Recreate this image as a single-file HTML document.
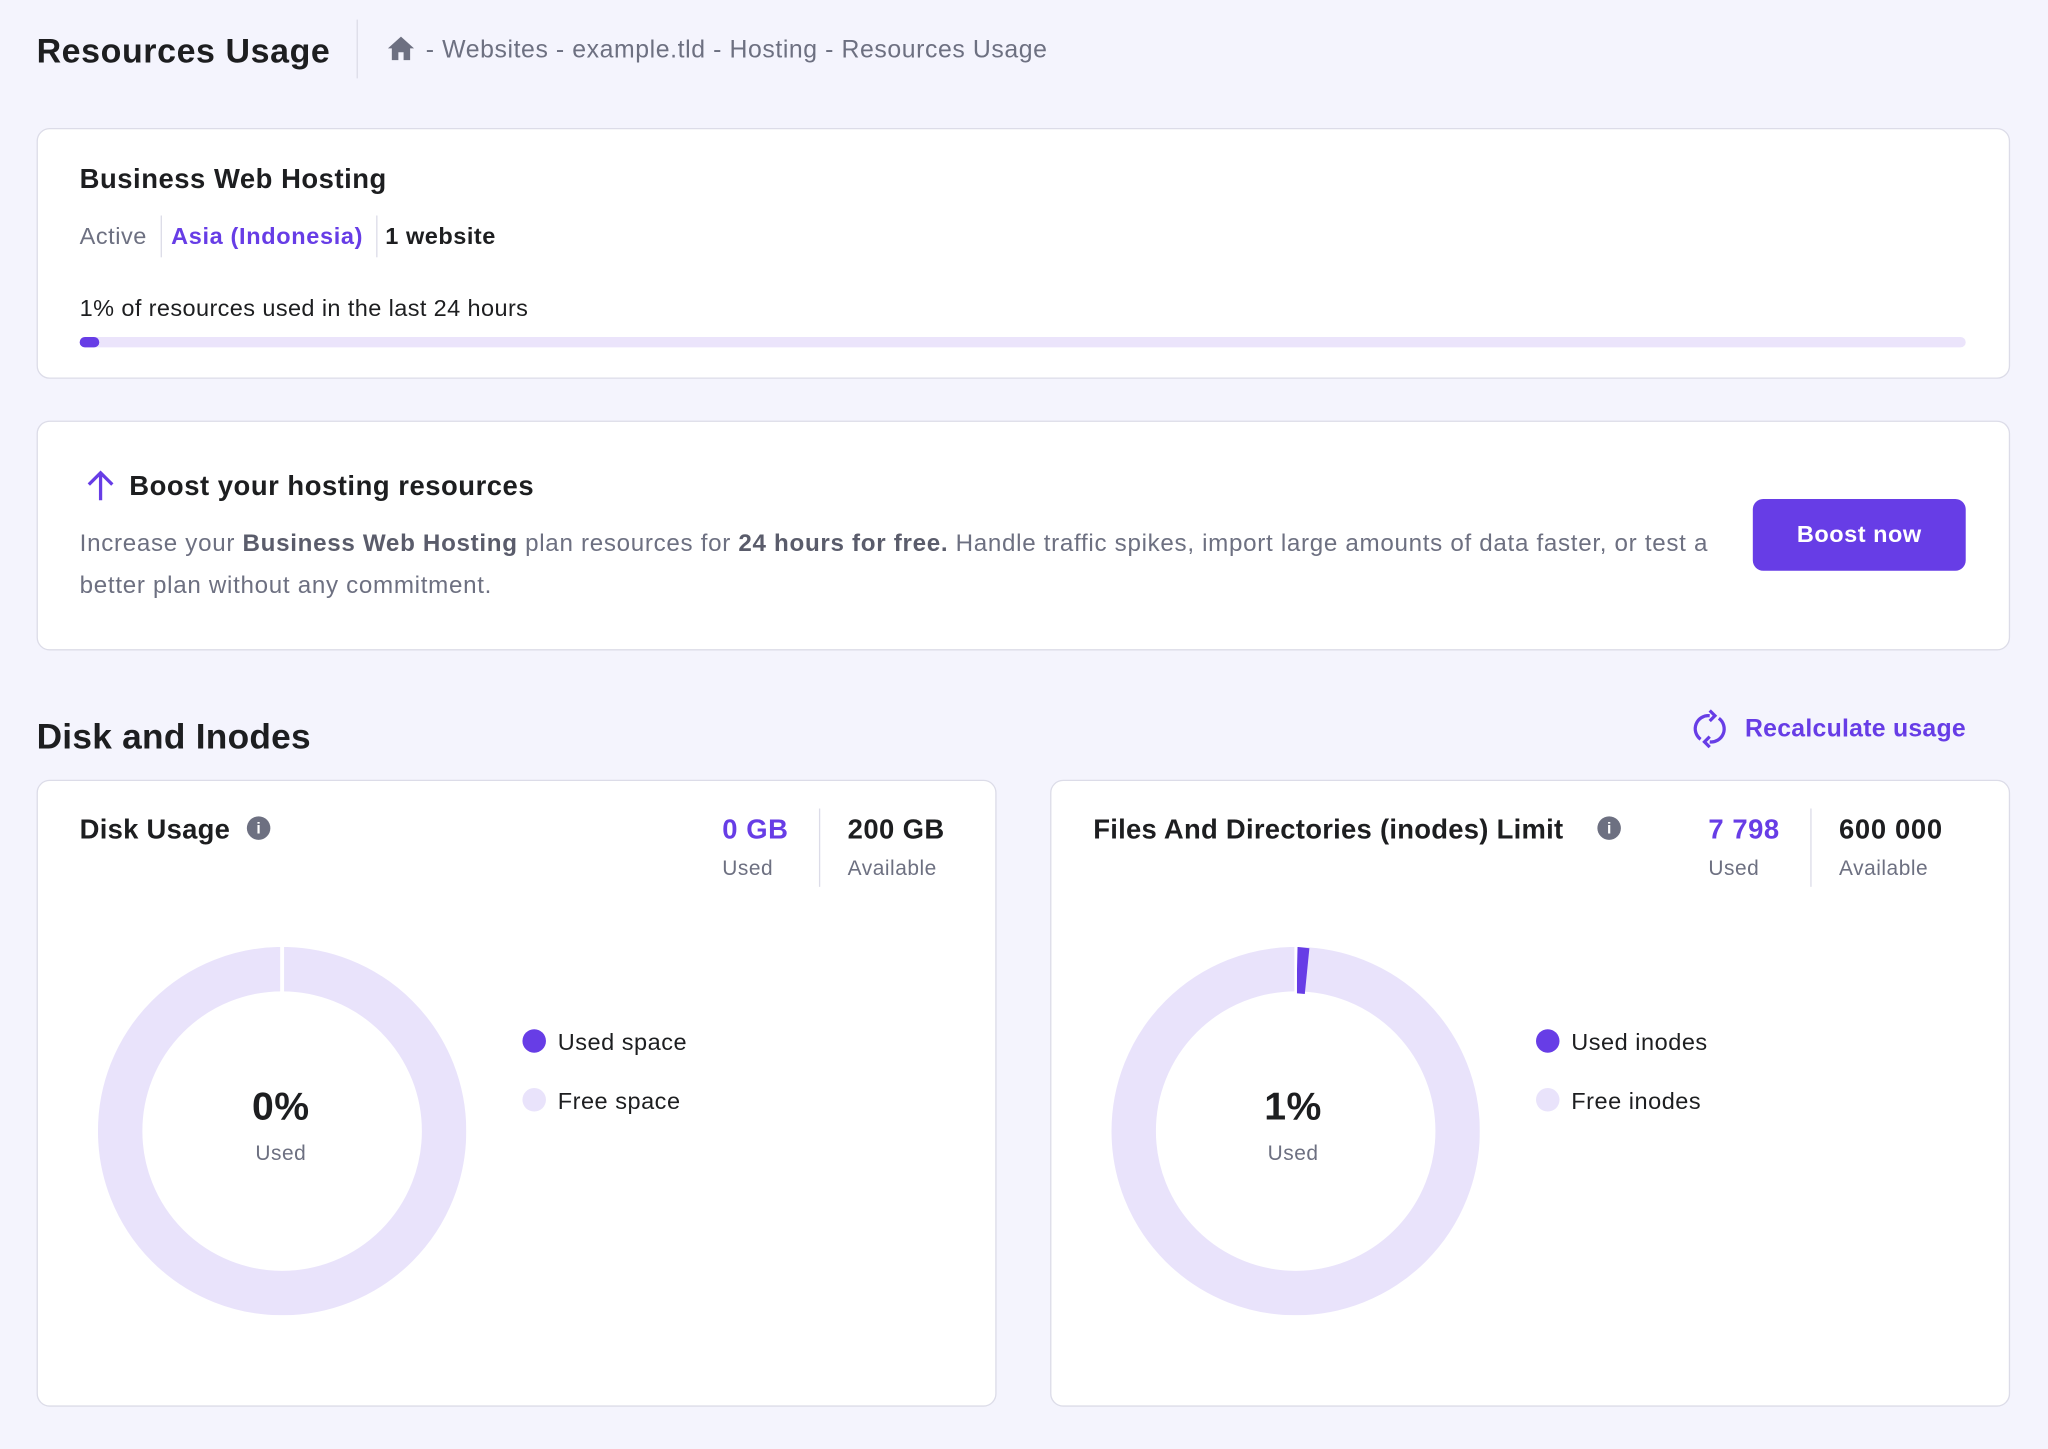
<!DOCTYPE html>
<html><head><meta charset="utf-8"><style>
html,body{margin:0;padding:0;background:#f4f4fd;width:2048px;height:1448px;overflow:hidden}
#w{position:absolute;left:0;top:0;width:1568px;height:1109px;transform:scale(1.306122);transform-origin:0 0;font-family:"Liberation Sans",sans-serif;color:#1d1e20;letter-spacing:0.4px}
.a{position:absolute;white-space:nowrap}
.card{position:absolute;background:#fff;border:1px solid #dcdce8;border-radius:10px;box-sizing:border-box}
.g{color:#6d7081}.p{color:#673de6}.b{font-weight:bold}
</style></head><body><div id="w">
<div class="a b" style="left:28px;top:24px;font-size:26px;letter-spacing:0.45px">Resources Usage</div>
<div class="a" style="left:273px;top:15px;width:1px;height:45px;background:#dcdce8"></div>
<svg class="a" style="left:296px;top:27px" width="22" height="20" viewBox="0 0 22 20"><path d="M11 1 L21 10 H18 V19 H13 V13 H9 V19 H4 V10 H1 Z" fill="#6d7081"/></svg>
<div class="a g" style="left:326px;top:28px;font-size:19px;letter-spacing:0.45px">- Websites - example.tld - Hosting - Resources Usage</div>

<div class="card" style="left:28px;top:98px;width:1511px;height:192px"></div>
<div class="a b" style="left:61px;top:126px;font-size:21px;letter-spacing:0.4px">Business Web Hosting</div>
<div class="a g" style="left:61px;top:171px;font-size:18px;letter-spacing:0.4px">Active</div>
<div class="a" style="left:123px;top:165px;width:1px;height:32px;background:#dcdce8"></div>
<div class="a p b" style="left:131px;top:171px;font-size:18px;letter-spacing:0.5px">Asia (Indonesia)</div>
<div class="a" style="left:288px;top:165px;width:1px;height:32px;background:#dcdce8"></div>
<div class="a b" style="left:295px;top:171px;font-size:18px">1 website</div>
<div class="a" style="left:61px;top:226px;font-size:18px;letter-spacing:0.3px">1% of resources used in the last 24 hours</div>
<div class="a" style="left:61px;top:258px;width:1444px;height:8px;border-radius:4px;background:#ebe4fb"></div>
<div class="a" style="left:61px;top:258px;width:15px;height:8px;border-radius:4px;background:#673de6"></div>

<div class="card" style="left:28px;top:322px;width:1511px;height:176px"></div>
<svg class="a" style="left:65px;top:359px" width="24" height="26" viewBox="0 0 24 26"><path d="M12 24 V3 M3 12 L12 3 L21 12" stroke="#673de6" stroke-width="2.5" fill="none"/></svg>
<div class="a b" style="left:99px;top:361px;font-size:21px;letter-spacing:0.4px">Boost your hosting resources</div>
<div class="a g" style="left:61px;top:400px;font-size:18.5px;line-height:32px;letter-spacing:0.53px">Increase your <b style="color:#5a5c6b">Business Web Hosting</b> plan resources for <b style="color:#5a5c6b">24 hours for free.</b> Handle traffic spikes, import large amounts of data faster, or test a<br>better plan without any commitment.</div>
<div class="a b" style="left:1342px;top:382px;width:163px;height:55px;border-radius:8px;background:#673de6;color:#fff;font-size:18px;line-height:55px;text-align:center">Boost now</div>

<div class="a b" style="left:28px;top:549px;font-size:27px;letter-spacing:0.2px">Disk and Inodes</div>
<svg class="a" style="left:1294px;top:543px" width="30" height="30" viewBox="0 0 30 30"><path d="M8 23 A10 10 0 0 1 15 5 M22 7 A10 10 0 0 1 15 25" stroke="#673de6" stroke-width="2.5" fill="none"/><path d="M15 1 L19 5 L15 9" stroke="#673de6" stroke-width="2.5" fill="none"/><path d="M15 21 L11 25 L15 29" stroke="#673de6" stroke-width="2.5" fill="none"/></svg>
<div class="a p b" style="left:1336px;top:548px;font-size:19px;letter-spacing:0.2px">Recalculate usage</div>

<div class="card" style="left:28px;top:597px;width:735px;height:480px"></div>
<div class="card" style="left:804px;top:597px;width:735px;height:480px"></div>

<div class="a b" style="left:61px;top:624px;font-size:21px;letter-spacing:0.2px">Disk Usage</div>
<div class="a" style="left:189px;top:625px;width:18px;height:18px;border-radius:50%;background:#6d7081;color:#fff;font-size:12px;text-align:center;line-height:18px;font-weight:bold;letter-spacing:0">i</div>
<div class="a p b" style="left:553px;top:624px;font-size:21px">0 GB</div>
<div class="a g" style="left:553px;top:657px;font-size:16px">Used</div>
<div class="a" style="left:627px;top:619px;width:1px;height:60px;background:#dcdce8"></div>
<div class="a b" style="left:649px;top:624px;font-size:21px;letter-spacing:0.3px">200 GB</div>
<div class="a g" style="left:649px;top:657px;font-size:16px">Available</div>
<svg class="a" style="left:75px;top:725px" width="282" height="282"><circle cx="141" cy="141" r="124" fill="none" stroke="#e9e3fb" stroke-width="34"/><line x1="141" y1="0" x2="141" y2="36" stroke="#fff" stroke-width="3"/></svg>
<div class="a b" style="left:115px;top:831px;width:200px;text-align:center;font-size:30px">0%</div>
<div class="a g" style="left:115px;top:875px;width:200px;text-align:center;font-size:16px">Used</div>
<div class="a" style="left:400px;top:788px;width:18px;height:18px;border-radius:50%;background:#673de6"></div>
<div class="a" style="left:427px;top:788px;font-size:18px">Used space</div>
<div class="a" style="left:400px;top:833px;width:18px;height:18px;border-radius:50%;background:#e9e3fb"></div>
<div class="a" style="left:427px;top:833px;font-size:18px">Free space</div>

<div class="a b" style="left:837px;top:624px;font-size:21px;letter-spacing:0.2px">Files And Directories (inodes) Limit</div>
<div class="a" style="left:1223px;top:625px;width:18px;height:18px;border-radius:50%;background:#6d7081;color:#fff;font-size:12px;text-align:center;line-height:18px;font-weight:bold;letter-spacing:0">i</div>
<div class="a p b" style="left:1308px;top:624px;font-size:21px">7 798</div>
<div class="a g" style="left:1308px;top:657px;font-size:16px">Used</div>
<div class="a" style="left:1386px;top:619px;width:1px;height:60px;background:#dcdce8"></div>
<div class="a b" style="left:1408px;top:624px;font-size:21px;letter-spacing:0.5px">600 000</div>
<div class="a g" style="left:1408px;top:657px;font-size:16px">Available</div>
<svg class="a" style="left:851px;top:725px" width="282" height="282"><circle cx="141" cy="141" r="124" fill="none" stroke="#e9e3fb" stroke-width="34"/><path d="M142.5 0 L151.5 1 L148 36 L141.5 35.5 Z" fill="#673de6"/><line x1="141" y1="0" x2="141" y2="36" stroke="#fff" stroke-width="2"/></svg>
<div class="a b" style="left:890px;top:831px;width:200px;text-align:center;font-size:30px">1%</div>
<div class="a g" style="left:890px;top:875px;width:200px;text-align:center;font-size:16px">Used</div>
<div class="a" style="left:1176px;top:788px;width:18px;height:18px;border-radius:50%;background:#673de6"></div>
<div class="a" style="left:1203px;top:788px;font-size:18px">Used inodes</div>
<div class="a" style="left:1176px;top:833px;width:18px;height:18px;border-radius:50%;background:#e9e3fb"></div>
<div class="a" style="left:1203px;top:833px;font-size:18px">Free inodes</div>
</div></body></html>
